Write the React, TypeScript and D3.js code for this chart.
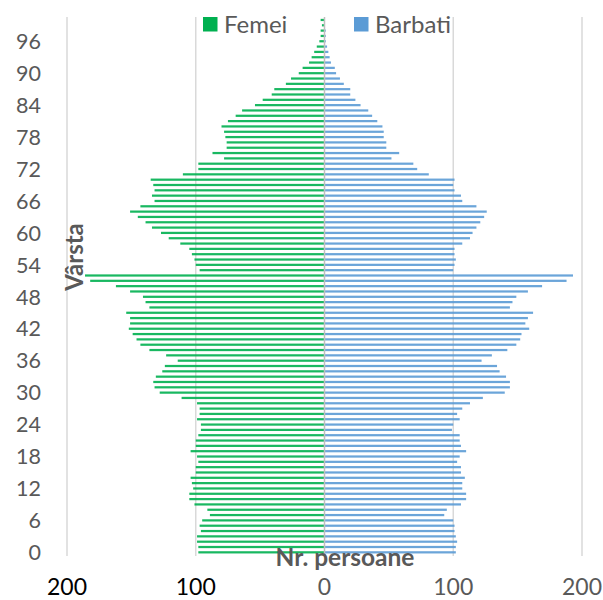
import React, { useRef, useEffect } from 'react';
import * as d3 from 'd3';

// ages 0..100
const ages = d3.range(0, 101);

const femei = [
  98, 98, 99, 99, 96, 97, 95, 89, 91, 101,
  105, 105, 102, 103, 104, 100, 100, 98, 99, 104,
  100, 100, 98, 96, 96, 99, 97, 97, 99, 111,
  128, 132, 133, 131, 126, 124, 114, 123, 136, 143,
  146, 149, 152, 151, 151, 154, 136, 139, 141, 151,
  162, 182, 186, 97, 100, 101, 103, 105, 112, 121,
  127, 134, 139, 145, 151, 143, 132, 134, 132, 133,
  135, 110, 98, 98, 78, 87, 76, 76, 77, 78,
  80, 75, 69, 64, 54, 48, 41, 39, 30, 26,
  20, 17, 12, 10, 8, 6, 4, 3, 3, 2, 3
];

const barbati = [
  102, 102, 103, 102, 101, 101, 100, 93, 95, 106,
  110, 110, 107, 107, 109, 106, 106, 103, 105, 110,
  106, 105, 105, 99, 100, 105, 103, 107, 113, 123,
  140, 144, 144, 141, 136, 134, 122, 130, 142, 149,
  152, 153, 159, 156, 158, 162, 144, 146, 149, 158,
  169, 188, 193, 100, 101, 102, 101, 101, 107, 113,
  115, 118, 121, 124, 126, 118, 107, 106, 101, 100,
  101, 81, 72, 69, 52, 58, 48, 48, 46, 46,
  45, 41, 37, 34, 28, 24, 20, 20, 15, 12,
  9, 8, 5, 4, 3, 2, 1, 1, 1, 0, 0
];

const xTicks = [-200, -100, 0, 100, 200];
const yTicks = d3.range(0, 97, 6);

const FONT = 'Lato, "Open Sans", sans-serif';
const GREEN = '#00B050';
const BLUE = '#5B9BD5';
const GRAY = '#595959';

const Pyramid = () => {
  const ref = useRef(null);

  useEffect(() => {
    const svg = d3.select(ref.current);
    svg.selectAll('*').remove();

    const x = d3.scaleLinear().domain([-200, 200]).range([67, 582]);
    const y = d3
      .scaleBand()
      .domain(ages.map(String))
      .range([555, 17.3])
      .paddingInner(0.58)
      .paddingOuter(0.29);

    // gridlines
    svg
      .append('g')
      .selectAll('line')
      .data(xTicks.filter((d) => d !== 0))
      .enter()
      .append('line')
      .attr('x1', (d) => x(d))
      .attr('x2', (d) => x(d))
      .attr('y1', 17)
      .attr('y2', 556)
      .attr('stroke', '#d9d9d9')
      .attr('stroke-width', 1.5);

    // bars
    svg
      .append('g')
      .selectAll('rect')
      .data(ages)
      .enter()
      .append('rect')
      .attr('x', (d) => x(-femei[d]))
      .attr('width', (d) => x(0) - x(-femei[d]))
      .attr('y', (d) => y(String(d)))
      .attr('height', y.bandwidth())
      .attr('fill', GREEN)
      .attr('opacity', 0.9);

    svg
      .append('g')
      .selectAll('rect')
      .data(ages)
      .enter()
      .append('rect')
      .attr('x', x(0))
      .attr('width', (d) => x(barbati[d]) - x(0))
      .attr('y', (d) => y(String(d)))
      .attr('height', y.bandwidth())
      .attr('fill', BLUE)
      .attr('opacity', 0.9);

    // center axis
    svg
      .append('line')
      .attr('x1', x(0))
      .attr('x2', x(0))
      .attr('y1', 17)
      .attr('y2', 556)
      .attr('stroke', '#bfbfbf')
      .attr('stroke-width', 1.5);

    // y tick labels
    svg
      .append('g')
      .selectAll('text')
      .data(yTicks)
      .enter()
      .append('text')
      .attr('x', 41)
      .attr('y', (d) => y(String(d)) + y.bandwidth() / 2)
      .attr('dy', '0.36em')
      .attr('text-anchor', 'end')
      .attr('font-family', FONT)
      .attr('font-size', 21.5)
      .attr('fill', GRAY)
      .text((d) => d);

    // x tick labels
    svg
      .append('g')
      .selectAll('text')
      .data(xTicks)
      .enter()
      .append('text')
      .attr('x', (d) => x(d))
      .attr('y', 595)
      .attr('text-anchor', 'middle')
      .attr('font-family', FONT)
      .attr('font-size', 23)
      .attr('fill', (d) => (d < 0 ? '#000' : GRAY))
      .text((d) => Math.abs(d));

    // axis titles
    svg
      .append('text')
      .attr('transform', 'translate(83, 257) rotate(-90)')
      .attr('text-anchor', 'middle')
      .attr('font-family', FONT)
      .attr('font-weight', 'bold')
      .attr('font-size', 24)
      .attr('fill', GRAY)
      .text('Vârsta');

    svg
      .append('text')
      .attr('x', 345)
      .attr('y', 566)
      .attr('text-anchor', 'middle')
      .attr('font-family', FONT)
      .attr('font-weight', 'bold')
      .attr('font-size', 24.5)
      .attr('fill', GRAY)
      .text('Nr. persoane');

    // legend
    const legend = [
      { label: 'Femei', color: GREEN, x: 203 },
      { label: 'Barbati', color: BLUE, x: 354 }
    ];
    const lg = svg
      .append('g')
      .selectAll('g')
      .data(legend)
      .enter()
      .append('g')
      .attr('transform', (d) => `translate(${d.x}, 17)`);
    lg.append('rect')
      .attr('width', 14.5)
      .attr('height', 14.5)
      .attr('fill', (d) => d.color);
    lg.append('text')
      .attr('x', 21)
      .attr('y', 16)
      .attr('font-family', FONT)
      .attr('font-size', 24)
      .attr('fill', GRAY)
      .text((d) => d.label);
  }, []);

  return <svg ref={ref} width={603} height={600} style={{ display: 'block' }} />;
};

export default function App() {
  return (
    <div style={{ position: 'absolute', left: 0, top: 0, width: 603, height: 600, overflow: 'hidden' }}>
      <Pyramid />
    </div>
  );
}
